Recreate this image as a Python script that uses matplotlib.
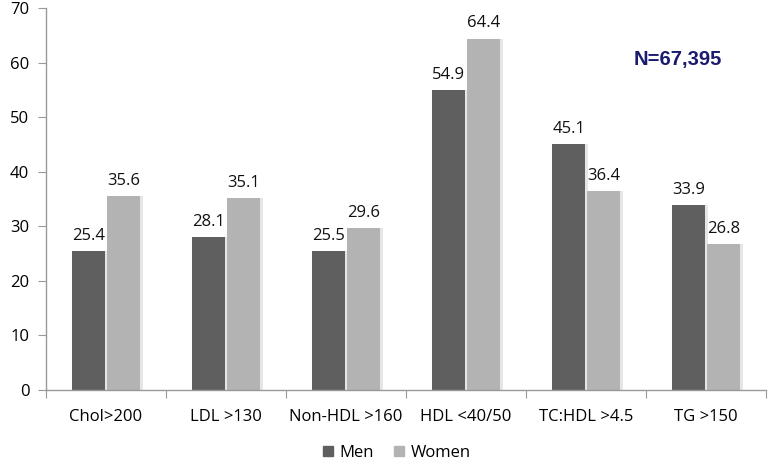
import matplotlib
matplotlib.use("Agg")
import matplotlib.pyplot as plt
import numpy as np
from matplotlib.patches import Patch

categories = ["Chol>200", "LDL >130", "Non-HDL >160", "HDL <40/50", "TC:HDL >4.5", "TG >150"]
men = [25.4, 28.1, 25.5, 54.9, 45.1, 33.9]
women = [35.6, 35.1, 29.6, 64.4, 36.4, 26.8]
series_names = ["Men", "Women"]
yticks = [0, 10, 20, 30, 40, 50, 60, 70]

plt.rcParams['font.family'] = ['Open Sans', 'DejaVu Sans']

fig = plt.figure(figsize=(7.77, 4.65), dpi=100)
ax = fig.add_axes([46/777, 1-390/465, 720/777, 382/465])

x = np.arange(len(categories))
w = 0.28
gap = 0.01
c_men = "#5f5f5f"
c_women = "#b3b3b3"

# subtle shadows
ax.bar(x - w/2 - gap/2 + 0.02, men, w, color="#e6e6e6", zorder=1)
ax.bar(x + w/2 + gap/2 + 0.02, women, w, color="#e6e6e6", zorder=1)
b1 = ax.bar(x - w/2 - gap/2, men, w, color=c_men, zorder=2)
b2 = ax.bar(x + w/2 + gap/2, women, w, color=c_women, zorder=2)

for xi, v in zip(x - w/2 - gap/2, men):
    ax.text(xi, v + 1.3, f"{v:.1f}", ha="center", va="bottom", fontsize=12, color="#111111")
for xi, v in zip(x + w/2 + gap/2, women):
    ax.text(xi, v + 1.3, f"{v:.1f}", ha="center", va="bottom", fontsize=12, color="#111111")

ax.set_xlim(-0.5, len(categories) - 0.5)
ax.set_ylim(0, 70)
ax.set_yticks(yticks)
ax.set_yticklabels([str(t) for t in yticks], fontsize=12)
ax.set_xticks(np.arange(len(categories) + 1) - 0.5, minor=False)
ax.set_xticklabels([])
ax.set_xticks(x, minor=True)
ax.set_xticklabels(categories, minor=True, fontsize=12)
ax.tick_params(axis='x', which='minor', length=0, pad=14)
ax.tick_params(axis='x', which='major', length=6, color="#999999", direction='out')
ax.tick_params(axis='y', length=6, color="#999999", direction='out', pad=6)

for s in ["top", "right"]:
    ax.spines[s].set_visible(False)
for s in ["left", "bottom"]:
    ax.spines[s].set_color("#999999")
    ax.spines[s].set_linewidth(1.0)

ax.text(0.877, 0.866, "N=67,395", transform=ax.transAxes, ha="center", va="center",
        fontsize=14.5, fontweight="bold", color="#1a1a6e", family=["Liberation Sans", "DejaVu Sans"])

handles = [Patch(color=c_men), Patch(color=c_women)]
fig.legend(handles, series_names, loc="center", bbox_to_anchor=(397/777, 1-453/465), ncol=2,
           frameon=False, fontsize=12, handlelength=0.6, handleheight=0.6, handletextpad=0.4,
           columnspacing=1.2)

fig.savefig("out.png", dpi=100)
